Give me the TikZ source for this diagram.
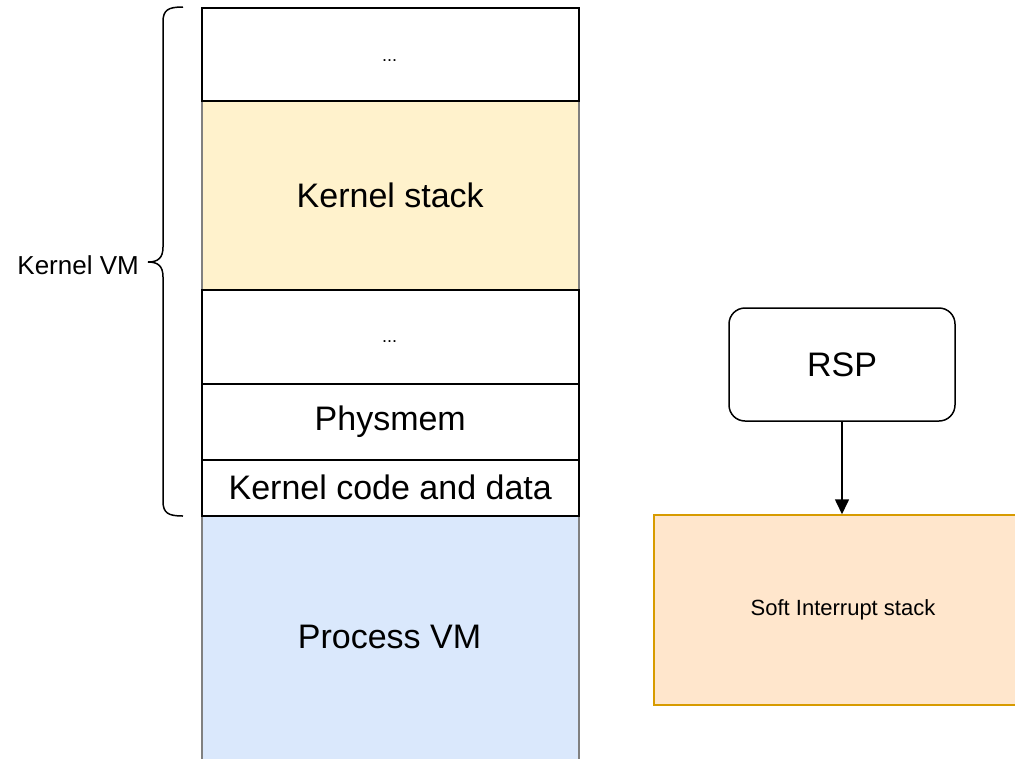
\documentclass[tikz,border=0pt]{standalone}
\usepackage{fontspec}
\setmainfont{Liberation Sans}
\usetikzlibrary{arrows.meta}
\definecolor{stackyellow}{HTML}{FFF2CC}
\definecolor{procblue}{HTML}{DAE8FC}
\definecolor{softfill}{HTML}{FFE6CC}
\definecolor{softline}{HTML}{D79B00}
\definecolor{edgegray}{HTML}{808080}
\tikzset{
  region/.style={draw=black, line width=1.5pt, fill=white, anchor=north west,
    minimum width=377pt, inner sep=0pt, font=\fontsize{34}{40}\selectfont},
  tinted/.style={region, draw=edgegray},
  dots/.style={font=\fontsize{18}{22}\selectfont},
  regbox/.style={draw=black, line width=1.5pt, rounded corners=16pt, fill=white,
    minimum width=226pt, minimum height=113pt, font=\fontsize{34}{40}\selectfont},
  softbox/.style={draw=softline, fill=softfill, line width=1.5pt,
    minimum width=378pt, minimum height=190pt, font=\fontsize{22}{26}\selectfont},
  pointer/.style={draw=black, line width=1.6pt, -{Triangle[length=15pt,width=14pt]}},
  bracestroke/.style={draw=black, line width=1.5pt},
}
\begin{document}
\begin{tikzpicture}[x=1pt, y=-1pt]
  \useasboundingbox (0,0) rectangle (1015,758);
  \clip (0,0) rectangle (1015,758);

  % memory layout column
  \node[tinted, fill=stackyellow, minimum height=189pt] (kstack) at (201,100) {Kernel stack};
  \node[tinted, fill=procblue, minimum height=246pt] (proc) at (201,515) {};
  \node[font=\fontsize{34}{40}\selectfont] (proclabel) at (389.5,637) {Process VM};
  \node[region, minimum height=93pt] (top) at (201,7) {};
  \node[dots] (topdots) at (389.5,61) {...};
  \node[region, minimum height=94pt] (mid) at (201,289) {};
  \node[dots] (middots) at (389.5,342) {...};
  \node[region, minimum height=76pt] (phys) at (201,383) {Physmem};
  \node[region, minimum height=56pt] (kcode) at (201,459) {Kernel code and data};

  % brace spanning the kernel part
  \coordinate (btop) at (183,7);
  \coordinate (bbot) at (183,516);
  \coordinate (btip) at (148,262);
  \draw[bracestroke] (btop) .. controls (168,7) and (163,10) .. (163,22)
    -- (163,247) .. controls (163,258) and (158,262) .. (btip)
    .. controls (158,262) and (163,266) .. (163,277)
    -- (163,501) .. controls (163,513) and (168,516) .. (bbot);
  \node[anchor=east, inner sep=0pt, font=\fontsize{26}{30}\selectfont] (kvm) at (139,265) {Kernel VM};

  % stack pointer and the stack it points to
  \node[regbox] (rsp) at (842,364.5) {RSP};
  \node[softbox] (soft) at (843,610) {Soft Interrupt stack};
  \draw[pointer] (rsp.south) -- (soft.north -| rsp.south);
\end{tikzpicture}
\end{document}
